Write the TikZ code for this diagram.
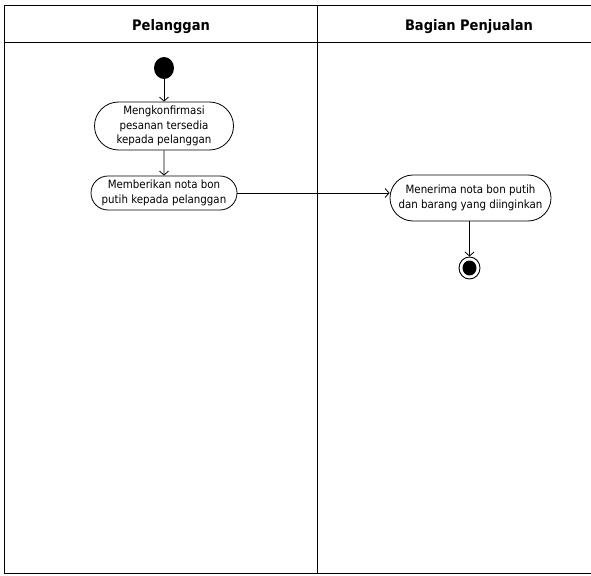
\documentclass[tikz,border=0pt]{standalone}
\usepackage{fontspec}
\setmainfont{DejaVu Sans Condensed}
\usetikzlibrary{arrows.meta,shapes.misc,shapes.geometric}
\begin{document}
\begin{tikzpicture}[x=1pt,y=-1pt,
  lane/.style={line width=1pt,draw=black},
  lanehead/.style={font=\bfseries\fontsize{14.5}{17}\selectfont,inner sep=0pt},
  activity/.style={draw,line width=0.8pt,rounded rectangle,inner sep=0pt,
    align=center,font=\fontsize{11.4}{14.5}\selectfont},
  startnode/.style={fill=black,ellipse,minimum width=20pt,minimum height=22pt,inner sep=0pt},
  flow/.style={line width=0.8pt,-{Straight Barb[length=4pt,width=9pt]}}]
\useasboundingbox (0,0) rectangle (591,575);
% swimlane frame
\draw[lane] (595,6) -- (4.5,6) -- (4.5,573) -- (595,573);
\draw[lane] (4.5,43) -- (595,43);
\draw[lane] (317.5,6) -- (317.5,573);
\node[lanehead] (h1) at (171,27) {Pelanggan};
\node[lanehead] (h2) at (469,27) {Bagian Penjualan};
% activities
\node[startnode] (start) at (164,68) {};
\node[activity,minimum width=139pt,minimum height=48pt] (a1) at (164,126)
  {Mengkonfirmasi\\pesanan tersedia\\kepada pelanggan};
\node[activity,minimum width=146pt,minimum height=34pt] (a2) at (164,193)
  {Memberikan nota bon\\putih kepada pelanggan};
\node[activity,minimum width=153pt,minimum height=46pt,inner xsep=-4pt] (a3) at (470.5,198)
  {Menerima nota bon putih\\dan barang yang diinginkan};
\node[draw,line width=0.9pt,ellipse,minimum width=21pt,minimum height=22pt,inner sep=0pt] (end) at (469.5,268) {};
\node[fill=black,ellipse,minimum width=14pt,minimum height=15pt,inner sep=0pt] (endin) at (end.center) {};
% control flow
\draw[flow] (start) -- (a1);
\draw[flow] (a1) -- (a2);
\draw[flow] (a2.east) -- (a2.east -| a3.west);
\draw[flow] (a3.south -| end.north) -- (end.north);
\end{tikzpicture}
\end{document}
